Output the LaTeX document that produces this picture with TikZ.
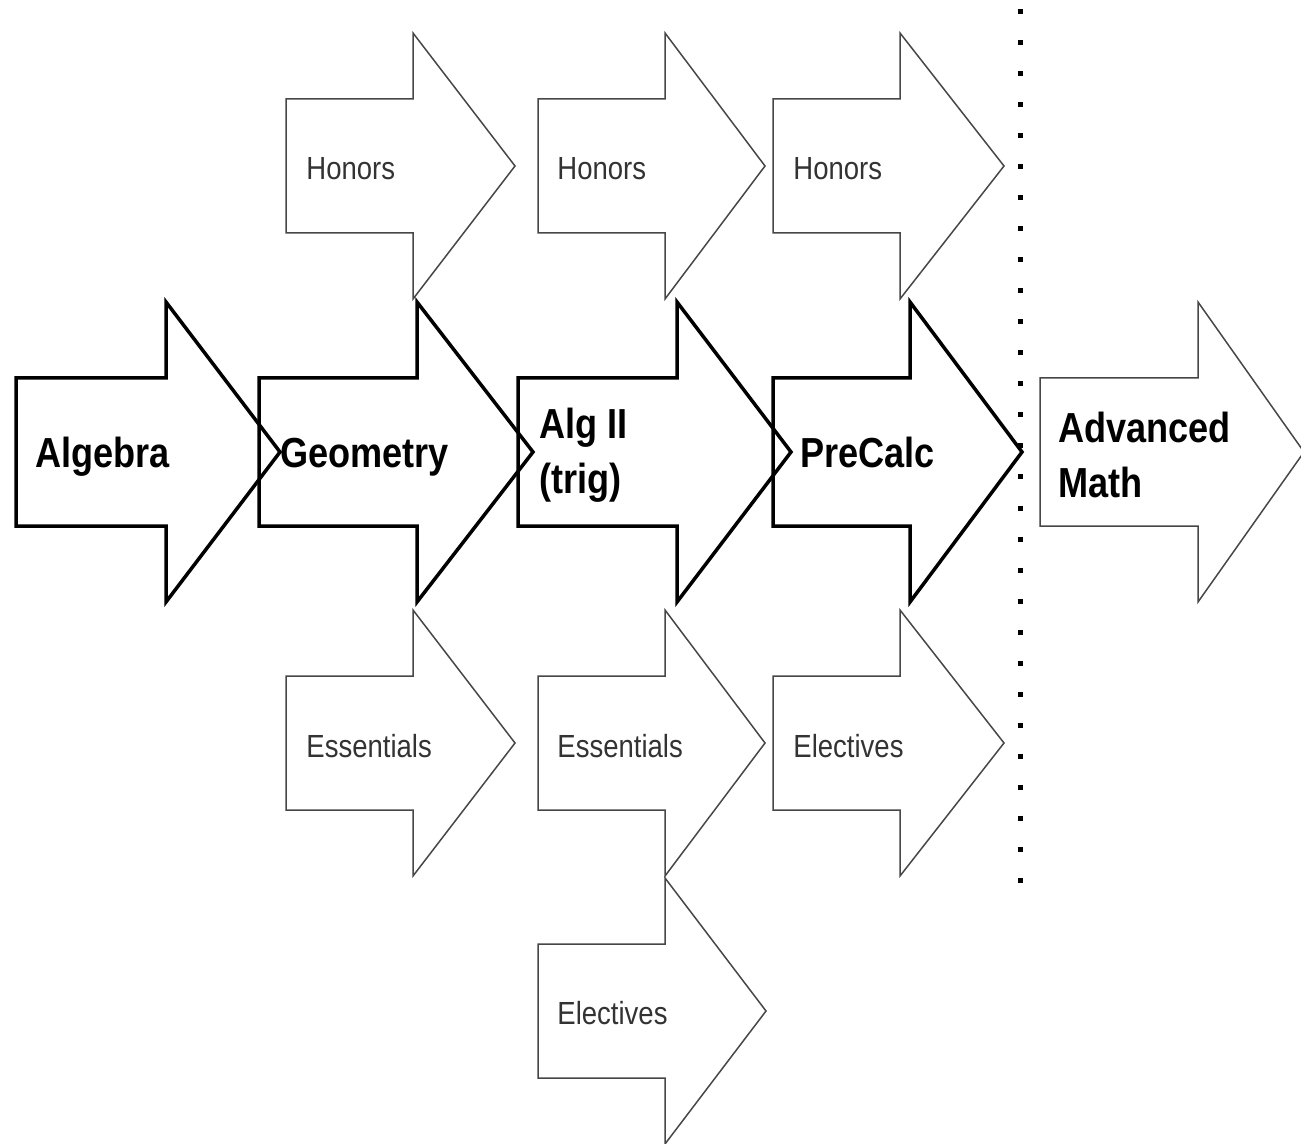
\documentclass[tikz,border=0pt]{standalone}
\usepackage{fontspec}
\setmainfont{Liberation Sans}[FakeStretch=0.86]
\newcommand\blockarrow[7]{%
  % #1 style, #2 left x, #3 centre y, #4 head x, #5 tip x, #6 half body, #7 half head
  \draw[#1] (#2,#3-#6) -- (#4,#3-#6) -- (#4,#3-#7) -- (#5,#3) -- (#4,#3+#7) -- (#4,#3+#6) -- (#2,#3+#6) -- cycle;}
\tikzset{
  mainarrow/.style={draw=black, line width=1.75pt, line join=miter},
  thinarrow/.style={draw=black!72, line width=0.75pt, line join=miter},
  mainlabel/.style={font=\fontsize{21}{27.5}\selectfont\bfseries, text=black, inner sep=0pt, align=left},
  sublabel/.style={font=\fontsize{16}{19}\selectfont, text=black!80, inner sep=0pt, anchor=base west},
}
\begin{document}
\begin{tikzpicture}[x=0.5pt, y=-0.5pt]
\useasboundingbox (0,0) rectangle (1301,1144);
\begin{scope}
\clip (0,0) rectangle (1301,1144);
% main row
\blockarrow{mainarrow}{16}{452}{166}{280}{74}{150}
\blockarrow{mainarrow}{259}{452}{417}{533}{74}{150}
\blockarrow{mainarrow}{518}{452}{677}{791}{74}{150}
\blockarrow{mainarrow}{773}{452}{910}{1022}{74}{150}
\blockarrow{thinarrow}{1040}{452}{1198}{1304}{74}{150}
% honors row
\blockarrow{thinarrow}{286}{166}{413}{515}{67}{133}
\blockarrow{thinarrow}{538}{166}{665}{765}{67}{133}
\blockarrow{thinarrow}{773}{166}{900}{1004}{67}{133}
% essentials / electives row
\blockarrow{thinarrow}{286}{743}{413}{515}{67}{133}
\blockarrow{thinarrow}{538}{743}{665}{765}{67}{133}
\blockarrow{thinarrow}{773}{743}{900}{1004}{67}{133}
% bottom electives
\blockarrow{thinarrow}{538}{1011}{665}{766}{67}{133}
% dotted divider
\coordinate (divtop) at (1020,9.5);
\coordinate (divbot) at (1020,882.5);
\draw[line width=2.5pt, dash pattern=on 2.5pt off 13pt] (divtop) -- (divbot);
\end{scope}
% labels
\node[mainlabel, anchor=base west] (algebra) at (35,467) {Algebra};
\node[mainlabel, anchor=base west] (geometry) at (280,467) {Geometry};
\node[mainlabel, anchor=west] (alg2) at (539,455) {Alg II\\(trig)};
\node[mainlabel, anchor=base west] (precalc) at (800,467) {PreCalc};
\node[mainlabel, anchor=west] (adv) at (1058,455) {Advanced\\Math};
\node[sublabel] (hon1) at (306,180) {Honors};
\node[sublabel] (hon2) at (557,180) {Honors};
\node[sublabel] (hon3) at (793,180) {Honors};
\node[sublabel] (ess1) at (306,757) {Essentials};
\node[sublabel] (ess2) at (557,757) {Essentials};
\node[sublabel] (ele1) at (793,757) {Electives};
\node[sublabel] (ele2) at (557,1024) {Electives};
\end{tikzpicture}
\end{document}
